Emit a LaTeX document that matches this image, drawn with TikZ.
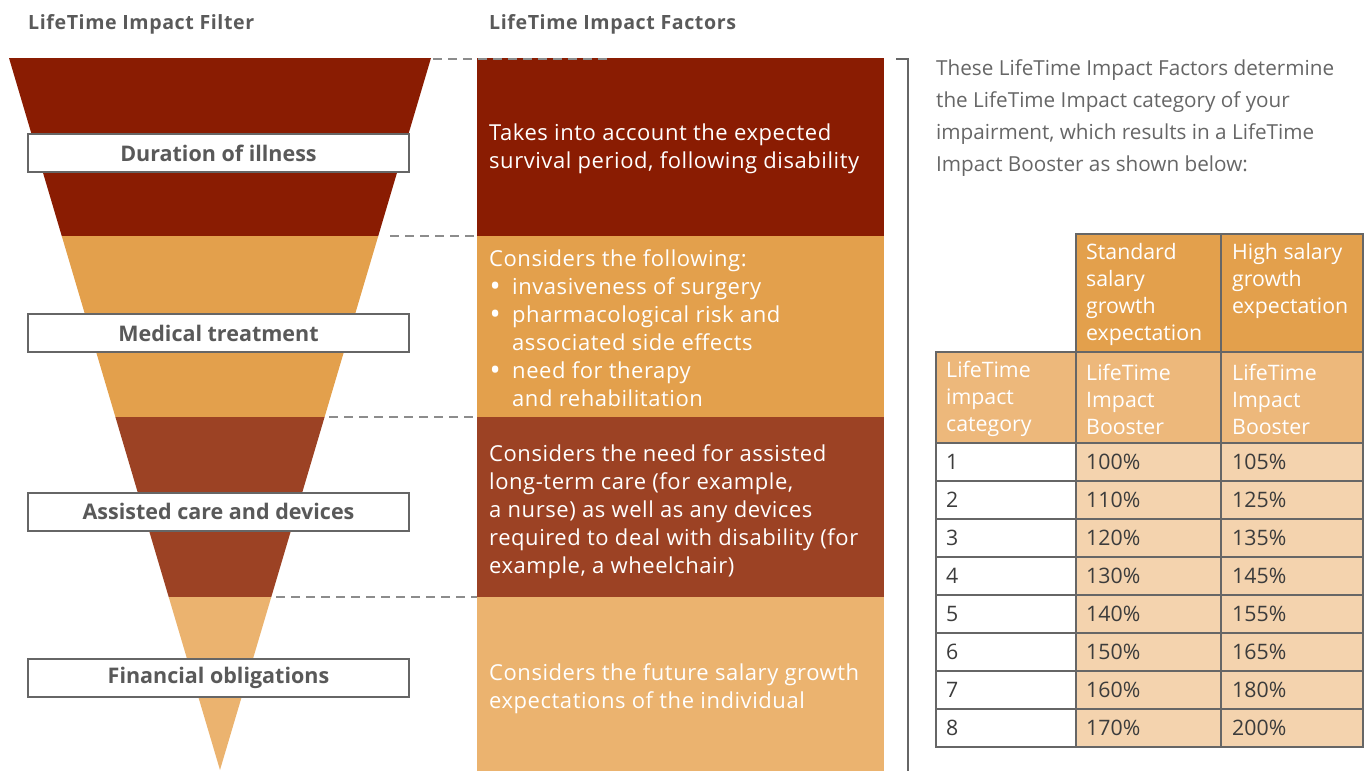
\documentclass[tikz,border=0pt]{standalone}
\usepackage{fontspec}
\setmainfont{Open Sans}
\definecolor{cA}{HTML}{8A1C02}
\definecolor{cB}{HTML}{E3A04C}
\definecolor{cC}{HTML}{9C4224}
\definecolor{cD}{HTML}{EBB36F}
\definecolor{thead}{HTML}{E3A04C}
\definecolor{rhead}{HTML}{EDB87B}
\definecolor{dcell}{HTML}{F4D3AE}
\definecolor{boxgray}{HTML}{666666}
\definecolor{labelgray}{HTML}{595959}
\definecolor{dashgray}{HTML}{8C8C8C}
\definecolor{txtgray}{HTML}{5A5A5A}
\definecolor{paragray}{HTML}{666666}
\definecolor{datagray}{HTML}{3C3C3C}
\newcommand{\fbul}{\makebox[23pt][l]{\hspace{0.5pt}\raisebox{-0.1em}{\scalebox{1.35}{•}}}}
\begin{document}
\begin{tikzpicture}[x=1pt,y=-1pt,
  lbl/.style={draw=boxgray, line width=2pt, fill=white, minimum width=381pt, minimum height=38pt, inner sep=0pt, font=\bfseries\fontsize{21.5}{24}\selectfont, text=labelgray},
  ftxt/.style={anchor=west, align=left, inner sep=0pt, text=white, font=\fontsize{22}{28}\selectfont\addfontfeature{LetterSpace=2.5}},
  title/.style={anchor=west, inner sep=0pt, text=txtgray, font=\bfseries\fontsize{19.6}{22}\selectfont\addfontfeature{LetterSpace=3}},
  dashln/.style={draw=dashgray, line width=1.3pt, dash pattern=on 9pt off 6pt},
  fbox/.style={anchor=north west, minimum width=407pt, inner sep=0pt, draw=none},
  cell/.style={anchor=north west, draw=boxgray, line width=2pt, inner sep=0pt},
  ctxt/.style={anchor=west, align=left, inner sep=0pt, font=\fontsize{21.3}{27}\selectfont},
]
\useasboundingbox (0,0) rectangle (1366,771);

% titles
\node[title] (t1) at (28,24) {LifeTime Impact Filter};
\node[title] (t2) at (489,24) {LifeTime Impact Factors};

% funnel
\fill[cA] (9,58) -- (431,58) -- (378.25,236) -- (61.75,236) -- cycle;
\fill[cB] (61.75,236) -- (378.25,236) -- (324.6,417) -- (115.4,417) -- cycle;
\fill[cC] (115.4,417) -- (324.6,417) -- (271.3,597) -- (168.7,597) -- cycle;
\fill[cD] (168.7,597) -- (271.3,597) -- (220,770) -- cycle;

% factor boxes
\node[fbox, fill=cA, minimum height=178pt] (f1) at (477,58) {};
\node[fbox, fill=cB, minimum height=181pt] (f2) at (477,236) {};
\node[fbox, fill=cC, minimum height=180pt] (f3) at (477,417) {};
\node[fbox, fill=cD, minimum height=174pt] (f4) at (477,597) {};

% dashed guide lines
\coordinate (d1a) at (433,59);  \coordinate (d1b) at (610,59);
\coordinate (d2a) at (390,236); \coordinate (d3a) at (329,417); \coordinate (d4a) at (276,597);
\draw[dashln] (d1a) -- (d1b);
\draw[dashln] (d2a) -- (f2.north west);
\draw[dashln] (d3a) -- (f3.north west);
\draw[dashln] (d4a) -- (f4.north west);

% labels
\node[lbl] (l1) at (218.5,153) {Duration of illness};
\node[lbl] (l2) at (218.5,333) {Medical treatment};
\node[lbl] (l3) at (218.5,511.5) {Assisted care and devices};
\node[lbl] (l4) at (218.5,677.5) {Financial obligations};

% factor texts
\node[ftxt] (x1) at (489,149) {Takes into account the expected\\survival period, following disability};
\node[ftxt] (x2) at (489,328) {Considers the following:\\
\fbul invasiveness of surgery\\
\fbul pharmacological risk and\\
\hspace*{23pt}associated side effects\\
\fbul need for therapy\\
\hspace*{23pt}and rehabilitation};
\node[ftxt] (x3) at (489,512) {Considers the need for assisted\\long-term care (for example,\\a nurse) as well as any devices\\required to deal with disability (for\\example, a wheelchair)};
\node[ftxt] (x4) at (489,689) {Considers the future salary growth\\expectations of the individual};

% bracket
\coordinate (b0) at (896,59); \coordinate (b1) at (908,59); \coordinate (b2) at (908,771);
\draw[boxgray, line width=2.5pt] (b0) -- (b1) -- (b2);

% paragraph
\node[anchor=west, align=left, inner sep=0pt, text=paragray, font=\fontsize{20.7}{32}\selectfont] (para) at (936,118)
 {These LifeTime Impact Factors determine\\the LifeTime Impact category of your\\impairment, which results in a LifeTime\\Impact Booster as shown below:};

% table header
\node[cell, fill=thead, minimum width=145pt, minimum height=118pt] (h2) at (1075,233) {};
\node[cell, fill=thead, minimum width=142pt, minimum height=118pt] (h3) at (1220,233) {};
\node[cell, fill=rhead, minimum width=140pt, minimum height=91pt] (r1) at (935,351) {};
\node[cell, fill=rhead, minimum width=145pt, minimum height=91pt] (r2) at (1075,351) {};
\node[cell, fill=rhead, minimum width=142pt, minimum height=91pt] (r3) at (1220,351) {};
\node[ctxt, text=white] (h2t) at (1086,294) {Standard\\salary\\growth\\expectation};
\node[ctxt, text=white] (h3t) at (1232,281) {High salary\\growth\\expectation};
\node[ctxt, text=white] (r1t) at (946,399) {LifeTime\\impact\\category};
\node[ctxt, text=white] (r2t) at (1086,399) {LifeTime\\Impact\\Booster};
\node[ctxt, text=white] (r3t) at (1232,399) {LifeTime\\Impact\\Booster};

% data rows
\foreach \i/\a/\b [count=\k from 0] in {1/100/105,2/110/125,3/120/135,4/130/145,5/140/155,6/150/165,7/160/180,8/170/200}{
  \pgfmathsetmacro{\yy}{442+38.05*\k}
  \node[cell, fill=white, minimum width=140pt, minimum height=38pt] (d\i a) at (935,\yy) {};
  \node[cell, fill=dcell, minimum width=145pt, minimum height=38pt] (d\i b) at (1075,\yy) {};
  \node[cell, fill=dcell, minimum width=142pt, minimum height=38pt] (d\i c) at (1220,\yy) {};
  \node[ctxt, text=datagray] (n\i a) at (946,\yy+20) {\i};
  \node[ctxt, text=datagray] (n\i b) at (1086,\yy+20) {\a\%};
  \node[ctxt, text=datagray] (n\i c) at (1232,\yy+20) {\b\%};
}
\end{tikzpicture}
\end{document}
